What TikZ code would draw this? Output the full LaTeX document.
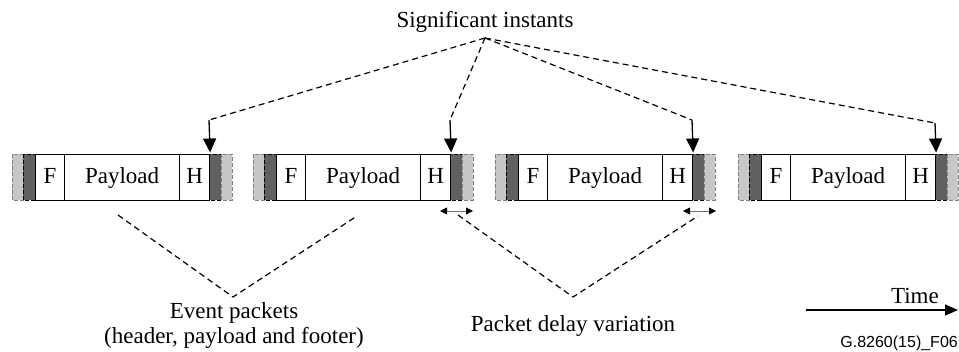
\documentclass[tikz,border=0pt]{standalone}
\usepackage{fontspec}
\setmainfont{Liberation Serif}
\newfontfamily\figsans{Liberation Sans}
\usetikzlibrary{arrows.meta}
\begin{document}
\begin{tikzpicture}[x=1pt,y=-1pt,
  lbl/.style={font=\fontsize{23}{26}\selectfont, inner sep=0pt},
  cell/.style={draw, fill=white, line width=1.2pt, minimum height=46pt, inner sep=0pt,
    anchor=north west, text height=16pt, text depth=5pt, font=\fontsize{23}{26}\selectfont},
  lgrey/.style={draw=black!50, fill=black!22, line width=1pt, dash pattern=on 4pt off 2pt},
  dgrey/.style={draw=black, fill=black!62, line width=1pt, dash pattern=on 4pt off 2pt},
  lead/.style={line width=1.2pt, dash pattern=on 6pt off 4pt},
  sigarrow/.style={-{Triangle[length=14pt,width=13pt]}, line width=1.3pt, shorten >=1.5pt},
  pdv/.style={{Triangle[length=7pt,width=7pt,color=black]}-{Triangle[length=7pt,width=7pt,color=black]}, line width=0.8pt, draw=black!55},
  timearrow/.style={-{Triangle[length=13pt,width=11pt]}, line width=1.3pt}
]
\useasboundingbox (0,0) rectangle (959,351);

% packets
\foreach \i/\x in {1/12,2/253,3/495,4/738}{
  \path[lgrey] (\x,154) rectangle (\x+11,200);
  \path[dgrey] (\x+11,154) rectangle (\x+23,200);
  \path[dgrey] (\x+197,154) rectangle (\x+209,200);
  \path[lgrey] (\x+209,154) rectangle (\x+220,200);
  \node[cell, minimum width=29pt] (f\i) at (\x+23,154) {F};
  \node[cell, minimum width=115pt] (pl\i) at (\x+52,154) {Payload};
  \node[cell, minimum width=30pt] (h\i) at (\x+167,154) {H};
}

% significant instants
\node[lbl, anchor=base] (sig) at (485,27) {Significant instants};
\coordinate (si) at (485,38);
\foreach \i/\x/\ky in {1/12/120,2/253/120,3/495/120,4/738/123}{
  \coordinate (k\i) at (\x+197,\ky);
  \draw[lead] (si) -- (k\i);
  \draw[sigarrow] (k\i) -- (h\i.north east);
}

% packet delay variation arrows
\coordinate (d2a) at (440,211);
\coordinate (d2b) at (473,211);
\coordinate (d3a) at (683,211);
\coordinate (d3b) at (716,211);
\draw[pdv] (d2a) -- (d2b);
\draw[pdv] (d3a) -- (d3b);

% event packets V
\coordinate (e1) at (118,215);
\coordinate (ev) at (233,297);
\coordinate (e2) at (357,216);
\draw[lead] (e1) -- (ev) -- (e2);
\node[lbl, anchor=base] (evt1) at (234,318) {Event packets};
\node[lbl, anchor=base] (evt2) at (234,343) {(header, payload and footer)};

% packet delay variation V
\coordinate (p1) at (458,215);
\coordinate (pv) at (573,297);
\coordinate (p2) at (698,216);
\draw[lead] (p1) -- (pv) -- (p2);
\node[lbl, anchor=base] (pdvl) at (573,331) {Packet delay variation};

% time
\coordinate (t0) at (806,310);
\coordinate (t1) at (958,310);
\draw[timearrow] (t0) -- (t1);
\node[lbl, anchor=base east] (time) at (939,303) {Time};

\node[inner sep=0pt, anchor=base east, font=\figsans\fontsize{16}{18}\selectfont] (fig) at (958,347) {G.8260(15)\_F06};
\end{tikzpicture}
\end{document}
